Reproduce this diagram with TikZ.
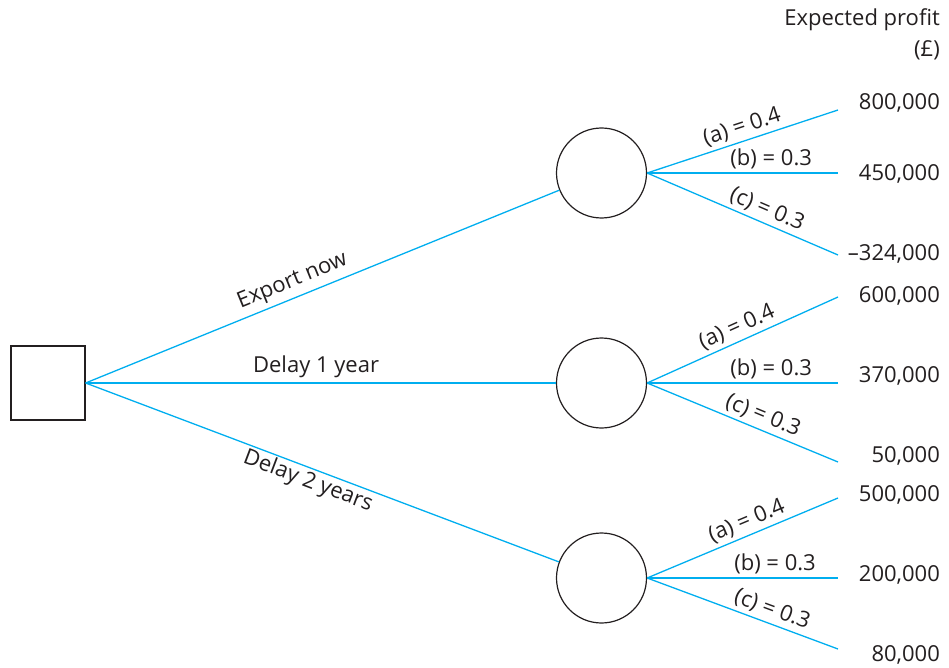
\documentclass[tikz,border=0pt]{standalone}
\usepackage{fontspec}
\setmainfont{Open Sans}
\definecolor{branch}{RGB}{0,174,239}
\definecolor{ink}{RGB}{35,31,32}
\begin{document}
\begin{tikzpicture}[x=1pt,y=-1pt,
  every node/.style={font=\fontsize{22}{26}\selectfont, text=ink},
  dec/.style={draw=ink, line width=1.2pt, minimum size=74pt, inner sep=0pt},
  chance/.style={circle, draw=ink, line width=1.2pt, minimum size=90pt, inner sep=0pt},
  br/.style={draw=branch, line width=1.3pt},
  val/.style={anchor=east, inner sep=0pt},
  lab/.style={sloped, above, inner sep=3.5pt}]
\useasboundingbox (0,0) rectangle (949,668);
\node[dec] (root) at (48,383) {};
\node[chance] (c1) at (601.5,173) {};
\node[chance] (c2) at (601.5,383) {};
\node[chance] (c3) at (601.5,578) {};
% ends
\coordinate (e1a) at (838,110);
\coordinate (e1b) at (838,173);
\coordinate (e1c) at (838,255);
\coordinate (e2a) at (838,297);
\coordinate (e2b) at (838,383);
\coordinate (e2c) at (838,462);
\coordinate (e3a) at (838,498);
\coordinate (e3b) at (838,578);
\coordinate (e3c) at (838,649);
% root branches
\draw[br] (root.east) -- (c1) node[lab, inner sep=5pt, pos=0.45] {Export now};
\draw[br] (root.east) -- (c2) node[lab, inner sep=5pt, pos=0.49] {Delay 1 year};
\draw[br] (root.east) -- (c3) node[sloped, below, inner sep=2pt, pos=0.48] {Delay 2 years};
% chance branches
\draw[br] (c1.east) -- (e1a) node[lab, pos=0.52] {(a) = 0.4};
\draw[br] (c1.east) -- (e1b) node[lab, pos=0.65] {(b) = 0.3};
\draw[br] (c1.east) -- (e1c) node[lab, pos=0.6] {(c) = 0.3};
\draw[br] (c2.east) -- (e2a) node[lab, pos=0.5] {(a) = 0.4};
\draw[br] (c2.east) -- (e2b) node[lab, pos=0.65] {(b) = 0.3};
\draw[br] (c2.east) -- (e2c) node[lab, pos=0.58] {(c) = 0.3};
\draw[br] (c3.east) -- (e3a) node[lab, pos=0.55] {(a) = 0.4};
\draw[br] (c3.east) -- (e3b) node[lab, pos=0.67] {(b) = 0.3};
\draw[br] (c3.east) -- (e3c) node[lab, pos=0.63] {(c) = 0.3};
% values
\node[val] (h1) at (940,20) {Expected profit};
\node[val] (h2) at (940,50) {(£)};
\node[val] (v1a) at (940,103) {800,000};
\node[val] (v1b) at (940,174) {450,000};
\node[val] (v1c) at (940,254) {–324,000};
\node[val] (v2a) at (940,296) {600,000};
\node[val] (v2b) at (940,376) {370,000};
\node[val] (v2c) at (940,456) {50,000};
\node[val] (v3a) at (940,495) {500,000};
\node[val] (v3b) at (940,575) {200,000};
\node[val] (v3c) at (940,655) {80,000};
\end{tikzpicture}
\end{document}
